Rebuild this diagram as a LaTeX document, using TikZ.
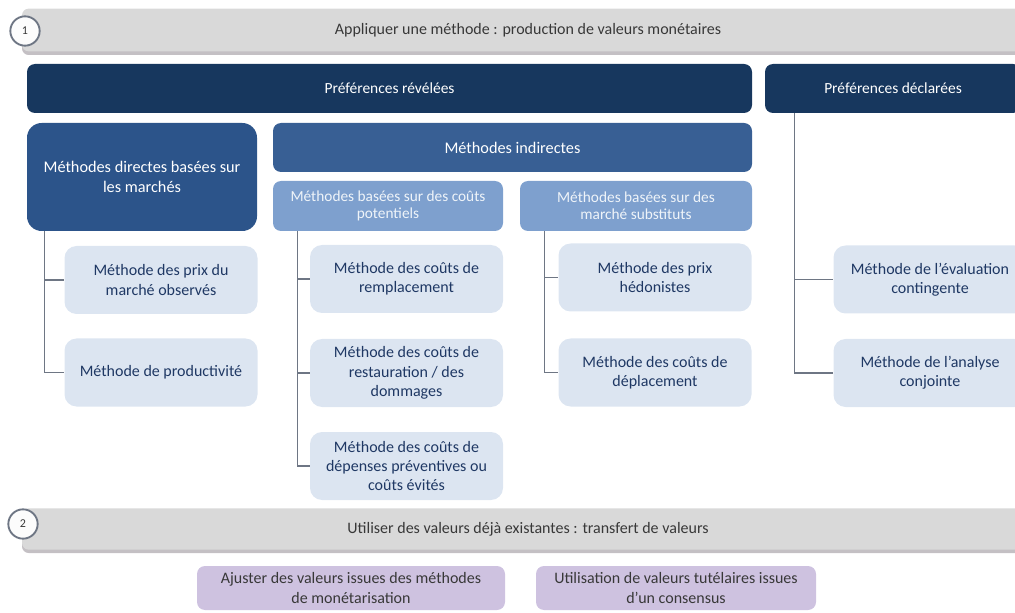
\documentclass[tikz,border=0pt]{standalone}
\usepackage{fontspec}
\setmainfont{Carlito}
\definecolor{navy}{RGB}{23,55,94}
\definecolor{midblue}{RGB}{44,84,138}
\definecolor{midblueb}{RGB}{56,95,148}
\definecolor{lightblue}{RGB}{126,160,206}
\definecolor{leafblue}{RGB}{220,229,241}
\definecolor{leaftext}{RGB}{31,56,100}
\definecolor{bandgray}{RGB}{217,217,217}
\definecolor{bandshade}{RGB}{196,192,196}
\definecolor{bandtext}{RGB}{56,56,56}
\definecolor{purplebox}{RGB}{206,194,224}
\definecolor{linegray}{RGB}{110,118,132}
\tikzset{every picture/.style={line width=0.75pt}}
\tikzset{
  bandbox/.style={fill=bandgray, rounded corners=5pt, minimum width=759pt, minimum height=32pt, inner sep=0pt, text=bandtext, font=\fontsize{12}{14}\selectfont},
  numcircle/.style={circle, draw=linegray, line width=1.4pt, fill=white!92!bandgray, minimum size=22pt, inner sep=0pt, text=bandtext, font=\fontsize{9}{10}\selectfont},
  headbox/.style={fill=navy, rounded corners=6pt, minimum height=36.75pt, inner sep=0pt, text=white, font=\fontsize{11.6}{14}\selectfont},
  groupbox/.style={fill=midblue, rounded corners=6pt, inner sep=0pt, text=white, align=center, font=\fontsize{12.2}{15}\selectfont},
  subbox/.style={fill=lightblue, rounded corners=6pt, minimum width=172.5pt, minimum height=37.5pt, inner sep=0pt, text=white!88!lightblue, align=center, font=\fontsize{11.5}{12.5}\selectfont},
  leafbox/.style={fill=leafblue, rounded corners=9pt, minimum width=144.75pt, minimum height=51pt, inner sep=0pt, text=leaftext, align=center, font=\fontsize{12}{14.5}\selectfont},
  transbox/.style={fill=purplebox, rounded corners=6pt, minimum height=33pt, inner sep=0pt, text=bandtext, align=center, font=\fontsize{12}{14.5}\selectfont},
  branch/.style={draw=linegray, line width=1.2pt}
}
\begin{document}
\begin{tikzpicture}[x=0.75pt,y=0.75pt,yscale=-1,xscale=1]
\useasboundingbox (0,0) rectangle (1015,613);

%Band 1
\fill [bandshade, rounded corners=5pt] (22,11) rectangle (1040,55);
\node [bandbox] (band1) at (528,30) {Appliquer une méthode : production de valeurs monétaires};
\node [numcircle] (num1) at (25,31) {1};

%Header boxes
\node [headbox, minimum width=543.75pt] (revelees) at (389.5,88.5) {Préférences révélées};
\node [headbox, minimum width=192pt] (declarees) at (893,88.5) {Préférences déclarées};

%Group boxes
\node [groupbox, rounded corners=11pt, minimum width=172.5pt, minimum height=81pt] (directes) at (142,177) {Méthodes directes basées sur\\les marchés};
\node [groupbox, fill=midblueb, minimum width=359.25pt, minimum height=36.75pt] (indirectes) at (512.5,147.5) {Méthodes indirectes};
\node [subbox] (potentiels) at (388,206) {Méthodes basées sur des coûts\\potentiels};
\node [subbox, minimum width=174pt] (substituts) at (636,206) {Méthodes basées sur des\\marché substituts};

%Leaf boxes
\node [leafbox] (prix) at (161,280) {Méthode des prix du\\marché observés};
\node [leafbox] (productivite) at (161,372.5) {Méthode de productivité};
\node [leafbox] (remplacement) at (406.5,279) {Méthode des coûts de\\remplacement};
\node [leafbox] (restauration) at (406.5,373) {Méthode des coûts de\\restauration / des\\dommages};
\node [leafbox] (preventives) at (406.5,466) {Méthode des coûts de\\dépenses préventives ou\\coûts évités};
\node [leafbox] (hedonistes) at (655,277.5) {Méthode des prix\\hédonistes};
\node [leafbox] (deplacement) at (655,372.5) {Méthode des coûts de\\déplacement};
\node [leafbox] (contingente) at (930,279.5) {Méthode de l’évaluation\\contingente};
\node [leafbox] (conjointe) at (930,373) {Méthode de l’analyse\\conjointe};

%Connectors
\draw [branch] (directes.south west) ++(18,0) |- (prix.west);
\draw [branch] (directes.south west) ++(18,0) |- (productivite.west);
\draw [branch] (potentiels.south west) ++(25,0) |- (remplacement.west);
\draw [branch] (potentiels.south west) ++(25,0) |- (restauration.west);
\draw [branch] (potentiels.south west) ++(25,0) |- (preventives.west);
\draw [branch] (substituts.south west) ++(25,0) |- (hedonistes.west);
\draw [branch] (substituts.south west) ++(25,0) |- (deplacement.west);
\draw [branch] (declarees.south west) ++(30,0) |- (contingente.west);
\draw [branch] (declarees.south west) ++(30,0) |- (conjointe.west);

%Band 2
\fill [bandshade, rounded corners=5pt] (22,511) rectangle (1040,553);
\node [bandbox, minimum height=31pt] (band2) at (528,529) {Utiliser des valeurs déjà existantes : transfert de valeurs};
\node [numcircle] (num2) at (23,524) {2};

%Transfer boxes
\node [transbox, minimum width=231pt] (ajuster) at (351,588) {Ajuster des valeurs issues des méthodes\\de monétarisation};
\node [transbox, minimum width=210pt] (tutelaires) at (676,588) {Utilisation de valeurs tutélaires issues\\d’un consensus};

\end{tikzpicture}
\end{document}
